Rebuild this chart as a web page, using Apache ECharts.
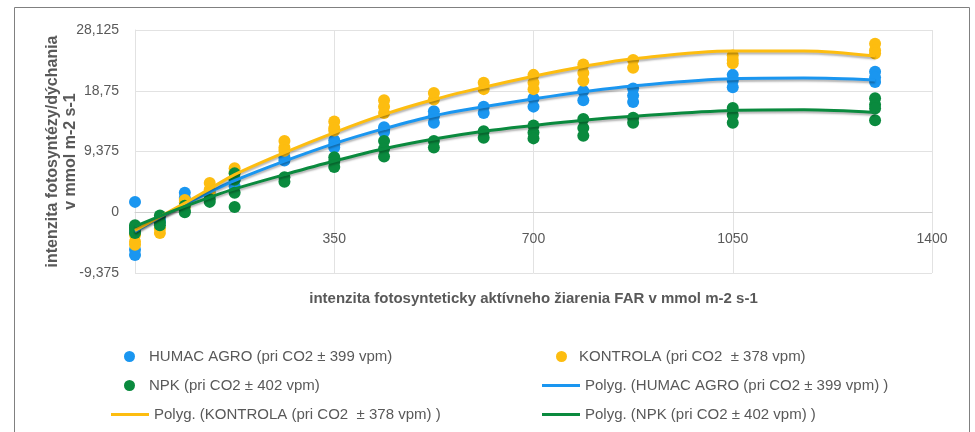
<!DOCTYPE html>
<html>
<head>
<meta charset="utf-8">
<script src="https://cdn.jsdelivr.net/npm/echarts@6/dist/echarts.min.js"></script>
<style>
  html, body { margin: 0; padding: 0; background: #fff; }
  #chart { width: 975px; height: 432px; }
</style>
</head>
<body>
<div id="chart"></div>
<script>
// FAR levels (x) where the samples were measured
const farLevels = [0, 43.75, 87.5, 131.25, 175, 262.5, 350, 437.5, 525, 612.5, 700, 787.5, 875, 1050, 1300];

// replicate readings per FAR level
const humacValues = [
    [1.6, -5.8, -6.6, -3.0], [-1.0, -1.5], [3.0, 2.2], [2.5, 3.0], [4.0, 5.0],
    [8.0, 8.5], [11.1, 10.0, 10.5], [13.1, 12.4, 12.8], [15.6, 13.8, 14.8], [16.3, 15.3],
    [17.6, 16.3], [18.7, 17.3], [19.1, 17.0, 18.0], [21.2, 19.3, 20.3], [21.7, 20.1, 20.8]
];
const kontrolaValues = [
    [-4.5, -5.0, -3.5], [-3.2, -2.5], [1.9, 1.5, 0.8], [4.5, 3.5, 2.8], [6.8, 6.2],
    [11.0, 10.0, 9.5], [14.0, 13.0, 12.6], [17.3, 16.3, 15.3], [18.4, 17.4], [20.0, 19.0],
    [21.2, 20.0, 19.0], [22.8, 21.5, 20.3], [23.5, 22.3], [24.2, 23.0, 23.5], [26.0, 25.0, 24.5]
];
const npkValues = [
    [-2.0, -2.6, -3.2, -2.3], [-0.5, -1.5, -2.0], [0.2, 0.0, 1.0], [1.6, 2.0], [6.0, 5.0, 3.0, 0.8],
    [5.4, 4.7], [8.5, 7.0, 7.8], [11.0, 9.8, 8.6], [11.0, 10.0], [12.5, 11.5],
    [13.4, 12.3, 11.4], [14.4, 13.0, 11.8], [14.6, 13.8], [16.1, 15.0, 13.8], [17.6, 16.6, 16.0, 14.2]
];

// polynomial trend lines
const trendX = [0, 43.75, 87.5, 131.25, 175, 262.5, 350, 437.5, 525, 612.5, 700, 787.5, 875, 1050, 1175, 1300];
const humacTrend = [-3.0, -0.8, 1.2, 3.1, 4.9, 7.9, 10.6, 12.9, 14.9, 16.3, 17.5, 18.6, 19.5, 20.6, 20.7, 20.4];
const kontrolaTrend = [-2.8, -0.7, 1.4, 3.6, 5.8, 9.2, 12.3, 15.1, 17.4, 19.3, 21.0, 22.5, 23.7, 24.9, 24.9, 24.1];
const npkTrend = [-2.2, -0.6, 0.9, 2.3, 3.6, 5.8, 7.9, 9.8, 11.3, 12.5, 13.4, 14.2, 14.8, 15.7, 15.8, 15.4];

const names = [
    'HUMAC AGRO (pri CO2 ± 399 vpm)',
    'KONTROLA (pri CO2  ± 378 vpm)',
    'NPK (pri CO2 ± 402 vpm)',
    'Polyg. (HUMAC AGRO (pri CO2 ± 399 vpm) )',
    'Polyg. (KONTROLA (pri CO2  ± 378 vpm) )',
    'Polyg. (NPK (pri CO2 ± 402 vpm) )'
];

const BLUE = '#1a96f0';
const YELLOW = '#fdbd10';
const GREEN = '#0a8a3e';
const FONT = "'Liberation Sans', sans-serif";

function points (values) {
    let out = [];
    farLevels.forEach(function (x, i) {
        values[i].forEach(function (y) { out.push([x, y]); });
    });
    return out;
}
function curve (ys) {
    return trendX.map(function (x, i) { return [x, ys[i]]; });
}

let chart = echarts.init(document.getElementById('chart'));

function scatter (name, color, values) {
    return {
        name: name, type: 'scatter', symbolSize: 12,
        itemStyle: { color: color, opacity: 1 },
        data: points(values)
    };
}
function trend (name, color, ys) {
    return {
        name: name, type: 'line', smooth: 0.35, showSymbol: false,
        lineStyle: {
            color: color, width: 3,
            shadowColor: 'rgba(0,0,0,0.3)', shadowBlur: 2, shadowOffsetY: 2
        },
        itemStyle: { color: color },
        z: 3,
        data: curve(ys)
    };
}
function legendItem (name, left, top, isLine, pad) {
    return {
        left: left, top: top, data: [name],
        icon: isLine ? 'rect' : 'circle',
        itemWidth: isLine ? 38 : 11,
        itemHeight: isLine ? 3 : 11,
        selectedMode: false,
        textStyle: { color: '#595959', fontSize: 15, fontFamily: FONT, padding: [0, 0, 0, pad] }
    };
}

chart.setOption({
    backgroundColor: '#fff',
    animation: false,
    graphic: [{
        type: 'rect', left: 12, top: 5,
        shape: { width: 955, height: 440 },
        style: { fill: 'none', stroke: '#808080', lineWidth: 1 }
    }],
    grid: { left: 135, right: 43, top: 30, bottom: 159 },
    legend: [
        legendItem(names[0], 119, 344, false, 9),
        legendItem(names[1], 551, 344, false, 7),
        legendItem(names[2], 119, 373, false, 9),
        legendItem(names[3], 537, 373, true, 0),
        legendItem(names[4], 106, 402, true, 0),
        legendItem(names[5], 537, 402, true, 0)
    ],
    xAxis: {
        type: 'value', min: 0, max: 1400, interval: 350,
        // the axis sits on the zero line of the y axis
        offset: -61,
        name: 'intenzita fotosynteticky aktívneho žiarenia FAR v mmol m-2 s-1',
        nameLocation: 'middle', nameGap: 79,
        nameTextStyle: { color: '#595959', fontSize: 15, fontWeight: 'bold', fontFamily: FONT },
        axisLine: { onZero: false, lineStyle: { color: '#d0d0d0', width: 1 } },
        axisTick: { show: false },
        axisLabel: {
            showMinLabel: false, margin: 20, color: '#595959', fontSize: 14, fontFamily: FONT,
            formatter: function (v) { return String(v); }
        },
        splitLine: { lineStyle: { color: '#e2e2e2' } }
    },
    yAxis: {
        type: 'value', min: -9.375, max: 28.125, interval: 9.375,
        name: 'intenzita fotosyntézy/dýchania\nv mmol m-2 s-1',
        nameLocation: 'middle', nameGap: 55, nameRotate: 90, nameMoveOverlap: false,
        nameTextStyle: { color: '#595959', fontSize: 16, fontWeight: 'bold', fontFamily: FONT, lineHeight: 18 },
        axisLine: { show: true, onZero: false, lineStyle: { color: '#e2e2e2' } },
        axisTick: { show: false },
        axisLabel: {
            margin: 16, color: '#595959', fontSize: 14, fontFamily: FONT,
            formatter: function (v) { return String(v).replace('.', ','); }
        },
        splitLine: { lineStyle: { color: '#e2e2e2' } }
    },
    series: [
        scatter(names[0], BLUE, humacValues),
        scatter(names[1], YELLOW, kontrolaValues),
        scatter(names[2], GREEN, npkValues),
        trend(names[3], BLUE, humacTrend),
        trend(names[4], YELLOW, kontrolaTrend),
        trend(names[5], GREEN, npkTrend)
    ]
});
</script>
</body>
</html>
